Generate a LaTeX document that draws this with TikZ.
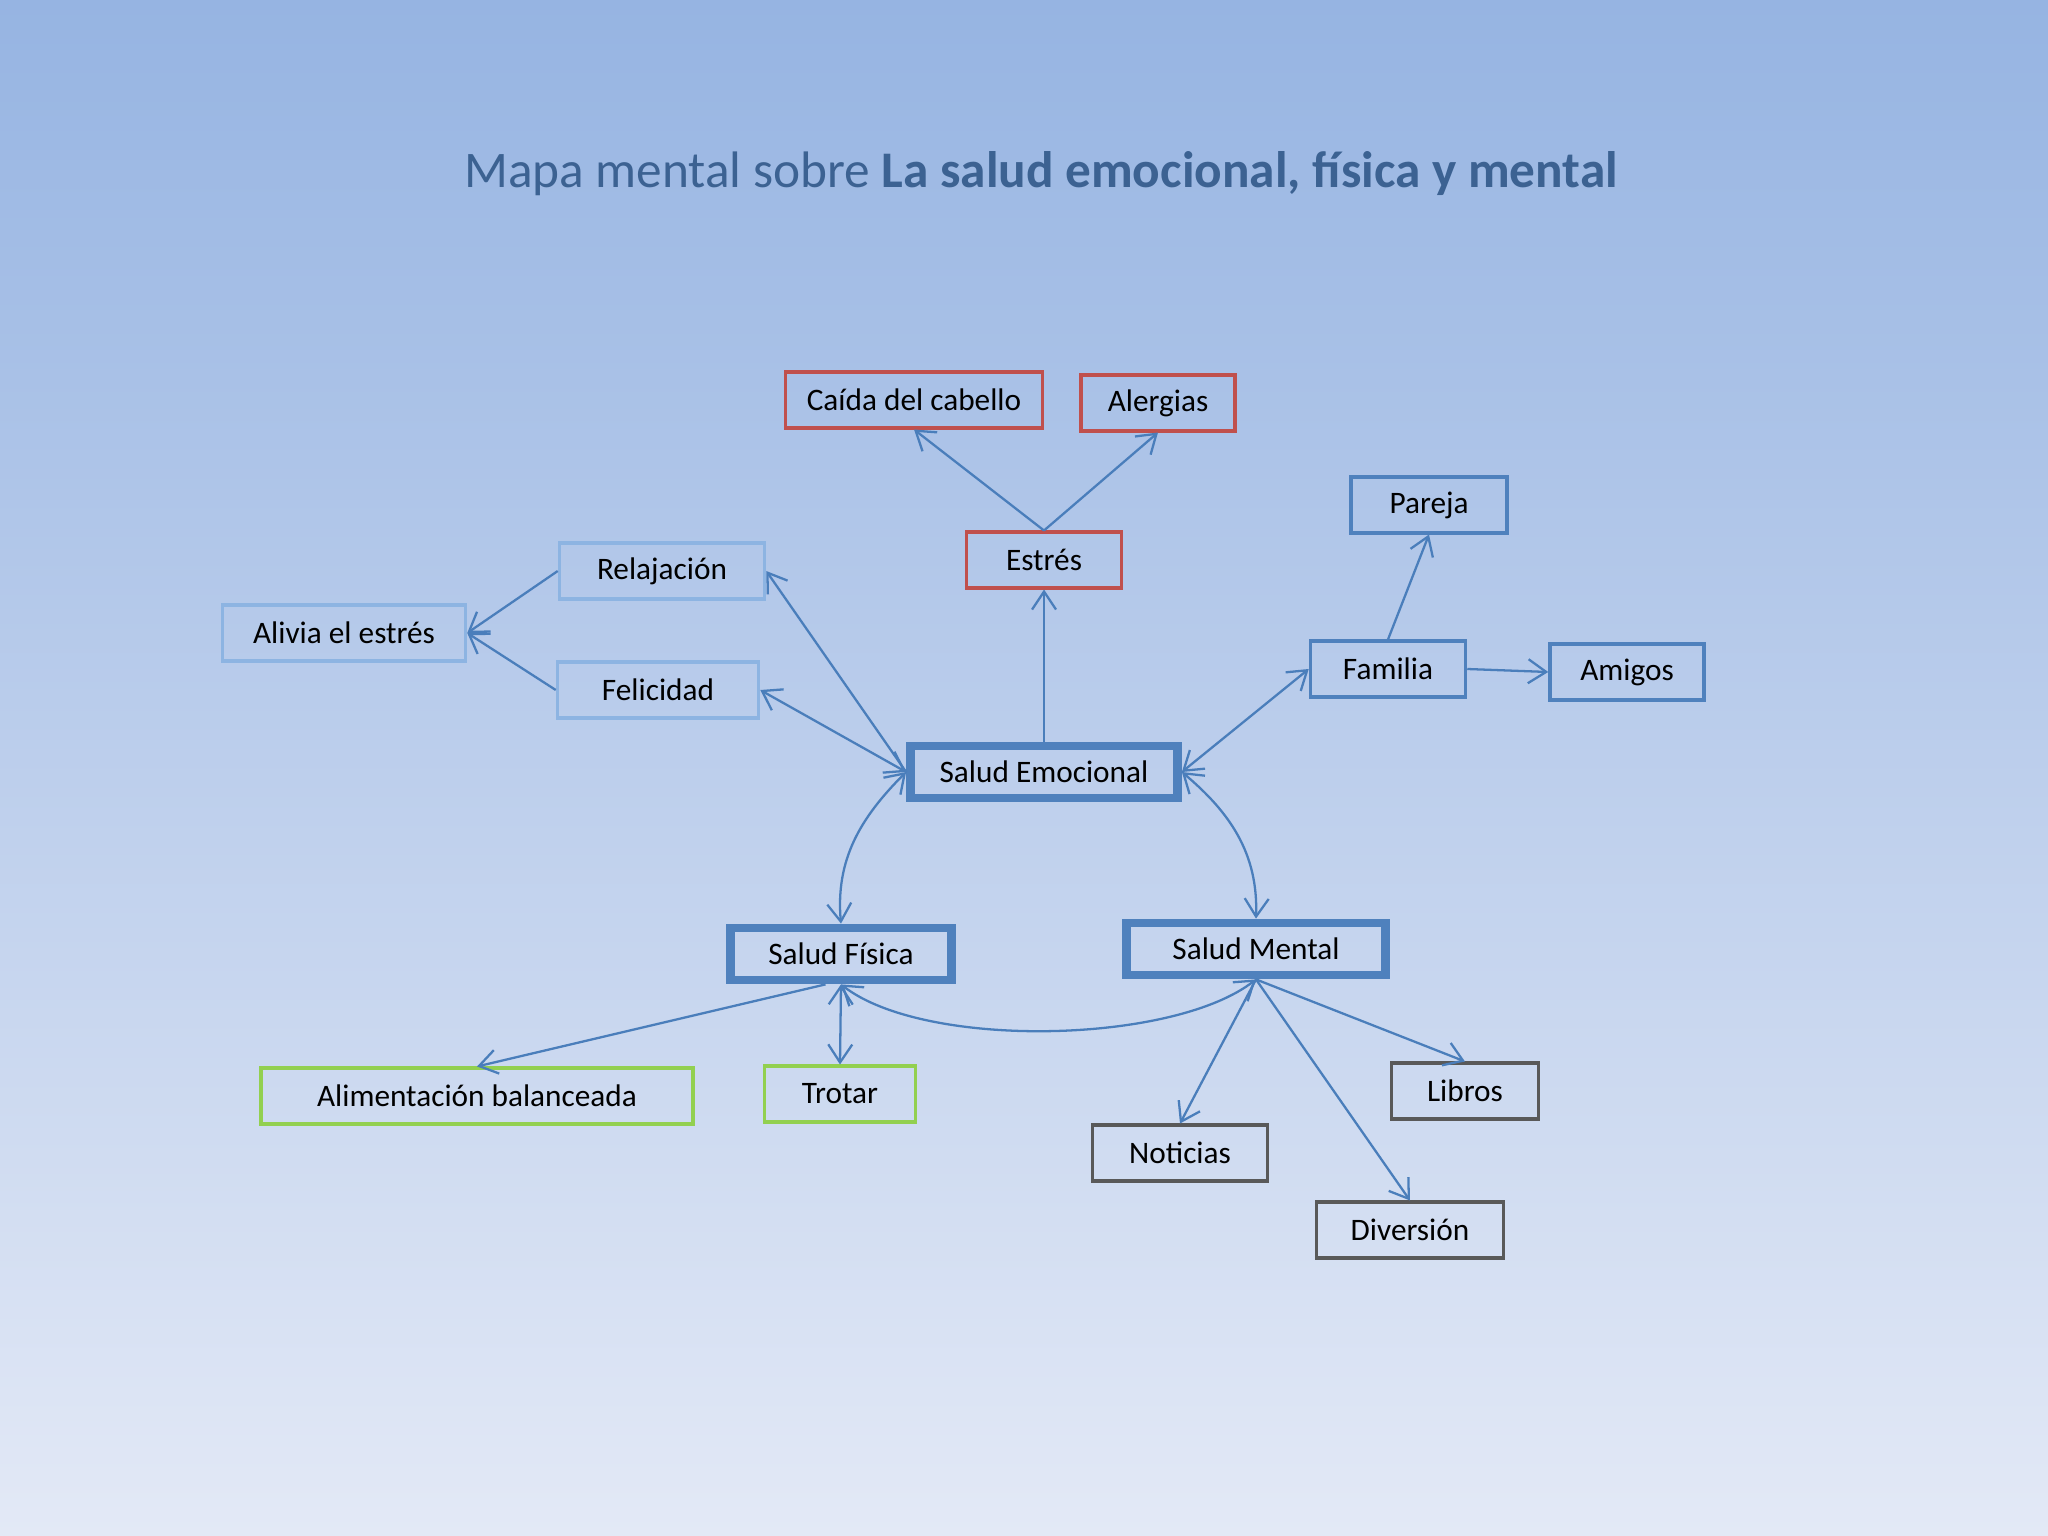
\documentclass[tikz,border=0pt]{standalone}
\usepackage{fontspec}
\setmainfont{Carlito}
\usepackage{tikz}
\usetikzlibrary{arrows.meta,positioning,calc}
\usepackage{xcolor}

\definecolor{bgtop}{RGB}{150,180,226}
\definecolor{bgbottom}{RGB}{227,233,246}
\definecolor{titleblue}{RGB}{60,98,146}
\definecolor{linkblue}{RGB}{74,126,187}
\definecolor{boxblue}{RGB}{79,129,189}
\definecolor{boxlight}{RGB}{141,180,226}
\definecolor{boxred}{RGB}{192,80,77}
\definecolor{boxgreen}{RGB}{146,208,80}
\definecolor{boxgray}{RGB}{89,89,89}

\tikzset{
  box/.style={draw, rectangle, inner sep=0pt, minimum height=5.55mm, line width=1pt,
    text=black, font=\fontsize{8.9}{10}\selectfont},
  redbox/.style={box, draw=boxred},
  lightbox/.style={box, draw=boxlight},
  bluebox/.style={box, draw=boxblue},
  greenbox/.style={box, draw=boxgreen},
  graybox/.style={box, draw=boxgray},
  mainbox/.style={box, draw=boxblue, line width=2.5pt, minimum height=5.2mm},
  link/.style={draw=linkblue, line width=0.65pt, ->},
  twolink/.style={link, <->},
  >={Straight Barb[length=1.8mm,width=2.4mm]}
}

\begin{document}
\begin{tikzpicture}
            % Background
            \useasboundingbox (0,0) rectangle (20.48,-15.36);
            \fill[top color=bgtop, bottom color=bgbottom] (0,0) rectangle (20.48,-15.36);

            % Title
            \node[text=titleblue, font=\fontsize{14.6}{17}\selectfont] (title) at (10.41,-1.74)
                {Mapa mental sobre \textbf{La salud emocional, física y mental}};

            % Centre
            \node[mainbox, minimum width=2.67cm] (emocional) at (10.44,-7.72) {Salud Emocional};
            \node[mainbox, minimum width=2.21cm] (fisica) at (8.41,-9.54) {Salud Física};
            \node[mainbox, minimum width=2.59cm] (mental) at (12.56,-9.49) {Salud Mental};

            % Stress branch
            \node[redbox, minimum width=1.55cm] (estres) at (10.44,-5.60) {Estrés};
            \node[redbox, minimum width=2.57cm] (caida) at (9.14,-4.00) {Caída del cabello};
            \node[redbox, minimum width=1.54cm] (alergias) at (11.58,-4.03) {Alergias};

            % Left branch
            \node[lightbox, minimum width=2.05cm] (relajacion) at (6.62,-5.71) {Relajación};
            \node[lightbox, minimum width=2.01cm] (felicidad) at (6.58,-6.90) {Felicidad};
            \node[lightbox, minimum width=2.43cm] (alivia) at (3.44,-6.33) {Alivia el estrés};

            % Family branch
            \node[bluebox, minimum width=1.55cm] (familia) at (13.88,-6.69) {Familia};
            \node[bluebox, minimum width=1.56cm] (pareja) at (14.29,-5.05) {Pareja};
            \node[bluebox, minimum width=1.54cm] (amigos) at (16.27,-6.72) {Amigos};

            % Physical branch
            \node[greenbox, minimum width=4.32cm] (alimentacion) at (4.77,-10.96) {Alimentación balanceada};
            \node[greenbox, minimum width=1.51cm] (trotar) at (8.40,-10.94) {Trotar};

            % Mental branch
            \node[graybox, minimum width=1.47cm] (libros) at (14.65,-10.91) {Libros};
            \node[graybox, minimum width=1.75cm] (noticias) at (11.80,-11.53) {Noticias};
            \node[graybox, minimum width=1.87cm] (diversion) at (14.10,-12.30) {Diversión};

            % Arrows
            \draw[link] (estres.north) -- (caida.south);
            \draw[link] (estres.north) -- (alergias.south);
            \draw[link] (emocional.north) -- (estres.south);
            \draw[link] (emocional.west) -- (relajacion.east);
            \draw[twolink] (emocional.west) -- (felicidad.east);
            \draw[link] (relajacion.west) -- (alivia.east);
            \draw[link] (felicidad.west) -- (alivia.east);
            \draw[twolink] (emocional.east) -- (familia.west);
            \draw[link] (familia.north) -- (pareja.south);
            \draw[link] (familia.east) -- (amigos.west);
            \draw[twolink] (emocional.west) to[out=225, in=95] (fisica.north);
            \draw[twolink] (emocional.east) to[out=-40, in=88] (mental.north);
            \draw[twolink] (fisica.south) to[out=-38, in=-142, looseness=0.65] (mental.south);
            \draw[link] (fisica.243) -- (alimentacion.north);
            \draw[twolink] (fisica.south) -- (trotar.north);
            \draw[link] (mental.south) -- (noticias.north);
            \draw[link] (mental.south) -- (diversion.north);
            \draw[link] (mental.south) -- (libros.north);
        \end{tikzpicture}
\end{document}
